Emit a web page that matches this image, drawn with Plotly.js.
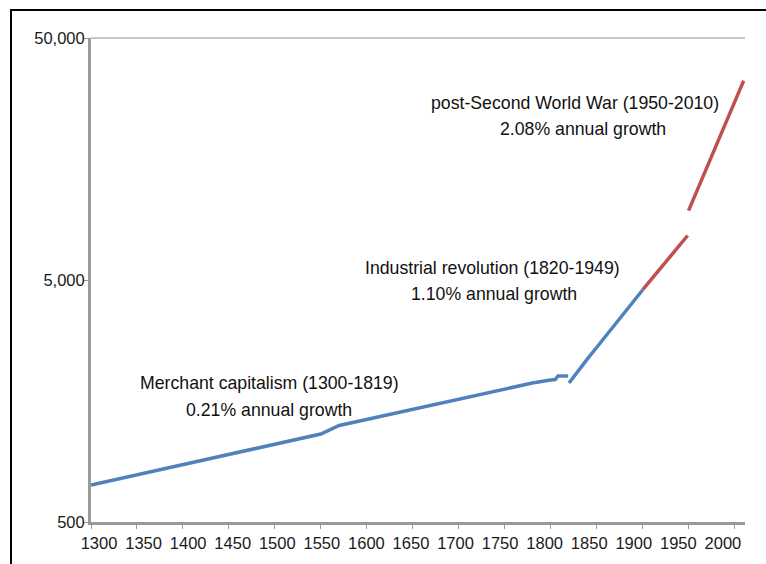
<!DOCTYPE html>
<html>
<head>
<meta charset="utf-8">
<script src="https://cdn.plot.ly/plotly-3.0.1.min.js"></script>
<style>
  html, body { margin: 0; padding: 0; background: #fff; overflow: hidden; }
  #chart { width: 766px; height: 564px; position: absolute; left: 0; top: 0; }
  #frame { position: absolute; left: 10px; top: 9px; width: 900px; height: 700px;
           border-top: 2px solid #000; border-left: 2px solid #000; pointer-events: none; }
</style>
</head>
<body>
<div id="chart"></div>
<div id="frame"></div>
<script>
// Merchant capitalism (blue, 1300-1819)
const blue1Years = [1300, 1400, 1500, 1550, 1570, 1600, 1650, 1700, 1720, 1780, 1800, 1805, 1808, 1819];
const blue1Vals  = [711, 863, 1048, 1155, 1252, 1327, 1461, 1610, 1671, 1876, 1931, 1940, 2006, 2006];

// Industrial revolution, first part (blue, 1820-1900)
const blue2Years = [1820, 1830, 1840, 1850, 1860, 1870, 1880, 1890, 1900];
const blue2Vals  = [1876, 2110, 2360, 2630, 2935, 3290, 3652, 4055, 4547];

// Industrial revolution, 20th century part (red, 1900-1949)
const red1Years = [1900, 1910, 1920, 1930, 1940, 1949];
const red1Vals  = [4547, 5046, 5606, 6224, 6910, 7636];

// post-Second World War (red, 1950-2010)
const red2Years = [1950, 1960, 1970, 1980, 1990, 2000, 2010];
const red2Vals  = [9670, 11887, 14650, 18064, 22273, 27450, 33313];

const xTickVals = [1300, 1350, 1400, 1450, 1500, 1550, 1600, 1650, 1700, 1750, 1800, 1850, 1900, 1950, 2000];
const xTickText = xTickVals.map(String);
const yTickVals = [500, 5000, 50000];
const yTickText = ['500', '5,000', '50,000'];

const annoLines = [
  'Merchant capitalism (1300-1819)', '0.21% annual growth',
  'Industrial revolution (1820-1949)', '1.10% annual growth',
  'post-Second World War (1950-2010)', '2.08% annual growth'
];

const BLUE = '#4f81bd';
const RED = '#c0504d';
const AXIS = '#9a9a9a';
const FONT = 'Liberation Sans, Arial, Helvetica, sans-serif';

function seg(x, y, color) {
  return { x: x, y: y, type: 'scatter', mode: 'lines',
           line: { color: color, width: 3.5 }, hoverinfo: 'skip', showlegend: false };
}

const data = [
  seg(blue1Years, blue1Vals, BLUE),
  seg(blue2Years, blue2Vals, BLUE),
  seg(red1Years, red1Vals, RED),
  seg(red2Years, red2Vals, RED),
  { x: [], y: [], xaxis: 'x2', yaxis: 'y', type: 'scatter', mode: 'lines', showlegend: false, hoverinfo: 'skip' }
];

const annoPos = [
  [0.2729, 0.2862], [0.2729, 0.2324],
  [0.6139, 0.5238], [0.6162, 0.4721],
  [0.7401, 0.8647], [0.7523, 0.8130]
];

const layout = {
  width: 766, height: 564,
  margin: { l: 91, r: 21, t: 38, b: 42, pad: 0 },
  paper_bgcolor: '#ffffff', plot_bgcolor: '#ffffff',
  font: { family: FONT, size: 16, color: '#1a1a1a' },
  showlegend: false,
  xaxis: {
    range: [1300, 2011.4], tickvals: xTickVals, showticklabels: false,
    ticks: 'outside', ticklen: 4, tickwidth: 1, tickcolor: AXIS,
    showline: true, linecolor: AXIS, linewidth: 3, showgrid: false, zeroline: false
  },
  xaxis2: {
    overlaying: 'x', anchor: 'y', side: 'bottom',
    range: [1291.0, 2024.8], tickvals: xTickVals, ticktext: xTickText,
    ticks: '', showline: false, showgrid: false, zeroline: false,
    tickfont: { family: FONT, size: 16.5, color: '#1a1a1a' }, ticklabelstandoff: 9
  },
  yaxis: {
    type: 'log', range: [Math.log10(500), Math.log10(50000)],
    tickvals: yTickVals, ticktext: yTickText,
    ticks: 'outside', ticklen: 4, tickwidth: 1, tickcolor: AXIS,
    tickfont: { family: FONT, size: 16.5, color: '#1a1a1a' }, ticklabelstandoff: -4,
    showline: true, linecolor: AXIS, linewidth: 3, showgrid: false, zeroline: false
  },
  shapes: [
    { type: 'line', xref: 'paper', yref: 'paper', x0: 0, x1: 1, y0: 1, y1: 1,
      line: { color: '#c8c8c8', width: 2 }, layer: 'below' }
  ],
  annotations: annoLines.map((t, i) => ({
    text: t, xref: 'paper', yref: 'paper', x: annoPos[i][0], y: annoPos[i][1],
    xanchor: 'center', yanchor: 'middle', showarrow: false,
    font: { family: FONT, size: 17.7, color: '#111' }
  }))
};

Plotly.newPlot('chart', data, layout, { staticPlot: true, displayModeBar: false });
</script>
</body>
</html>
